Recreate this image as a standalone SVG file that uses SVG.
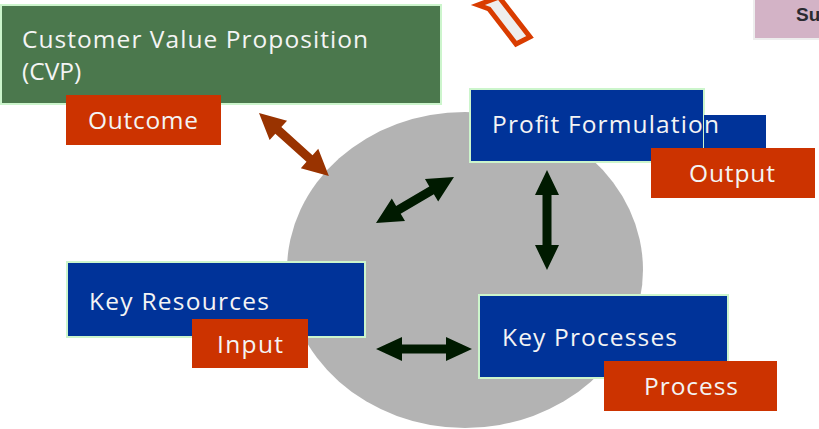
<svg xmlns="http://www.w3.org/2000/svg" width="819" height="429" viewBox="0 0 819 429">
<style>
.lbl{font-family:"Open Sans","Liberation Sans",sans-serif;font-size:24.5px;fill:#f4f4f4}
.blue{fill:#003399;stroke:#ccf5cc;stroke-width:2}
.red{fill:#cc3300}
.darr{fill:#001a00}
.barr{fill:#993300}
</style>
<rect width="819" height="429" fill="#ffffff"/>
<g id="hub"><ellipse cx="465" cy="270" rx="178" ry="158" fill="#b3b3b3"/></g>
<g id="top-arrow"><polygon points="478,5 489,9 516,44 530,37 499,-3" fill="#eeeeee" stroke="#d93c00" stroke-width="5" stroke-linejoin="miter"/></g>
<g id="sup-box">
<rect x="753" y="-2" width="70" height="42" fill="#ededed"/>
<rect x="755" y="-2" width="70" height="40" fill="#d3b3c6"/>
<text x="796" y="21" font-family="Liberation Sans, sans-serif" font-size="19" font-weight="bold" fill="#2a2a30">Su</text>
</g>
<g id="cvp">
<rect x="1" y="5" width="440" height="99" fill="#4b784d" stroke="#ccf5cc" stroke-width="2"/>
<text class="lbl" x="22" y="48" textLength="346">Customer Value Proposition</text>
<text class="lbl" x="22" y="80">(CVP)</text>
</g>
<g id="outcome">
<rect class="red" x="66" y="95" width="155" height="50"/>
<text class="lbl" x="88" y="129" textLength="110">Outcome</text>
</g>
<g id="profit">
<rect class="blue" x="470" y="89" width="234" height="73"/>
<rect x="704" y="115" width="62" height="47" fill="#003399"/>
<text class="lbl" x="492" y="133" textLength="227">Profit Formulation</text>
</g>
<g id="output">
<rect class="red" x="651" y="148" width="164" height="50"/>
<text class="lbl" x="689" y="182" textLength="86">Output</text>
</g>
<g id="resources">
<rect class="blue" x="67" y="262" width="298" height="75"/>
<text class="lbl" x="89" y="310" textLength="180">Key Resources</text>
</g>
<g id="input">
<rect class="red" x="192" y="319" width="116" height="49"/>
<text class="lbl" x="217" y="353" textLength="66">Input</text>
</g>
<g id="processes">
<rect class="blue" x="479" y="295" width="249" height="83"/>
<text class="lbl" x="502" y="346" textLength="175">Key Processes</text>
</g>
<g id="process">
<rect class="red" x="604" y="361" width="173" height="50"/>
<text class="lbl" x="644" y="395" textLength="94">Process</text>
</g>
<g id="connectors">
<polygon class="barr" transform="translate(259,113) rotate(42)" points="0,0 26,-13 26,-4.5 68,-4.5 68,-13 94,0 68,13 68,4.5 26,4.5 26,13"/>
<polygon class="darr" transform="translate(376,223) rotate(-30.5)" points="0,0 26,-13 26,-4.5 64.5,-4.5 64.5,-13 90.5,0 64.5,13 64.5,4.5 26,4.5 26,13"/>
<polygon class="darr" transform="translate(547,170) rotate(90)" points="0,0 25,-12 25,-4.5 75,-4.5 75,-12 100,0 75,12 75,4.5 25,4.5 25,12"/>
<polygon class="darr" transform="translate(376,349)" points="0,0 26,-12 26,-4.5 70,-4.5 70,-12 96,0 70,12 70,4.5 26,4.5 26,12"/>
</g>
</svg>
